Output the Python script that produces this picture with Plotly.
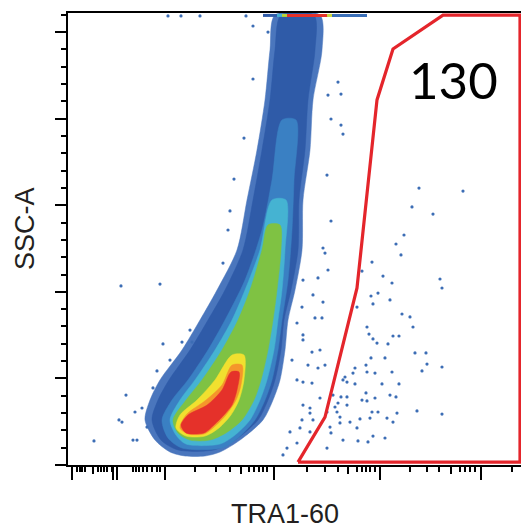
import plotly.graph_objects as go

# display units: x = TRA1-60 display channel, y = SSC-A in thousands
x_major_ticks = [4, 45, 49, 97, 206, 312, 413]
x_medium_ticks = [25, 173, 280, 383]
x_minor_ticks = [9, 12, 14, 17, 30, 33, 36, 39, 44, 65, 68, 71, 75, 79, 84, 89, 92,
                 127, 148, 162, 181, 186, 191, 195, 199, 239, 257, 270, 289, 294, 298,
                 302, 307, 342, 359, 371, 392, 397, 402, 407, 444]
y_major_ticks = [0, 50, 100, 150, 200, 250]
y_minor_ticks = [10, 20, 30, 40, 60, 70, 80, 90, 110, 120, 130, 140, 160, 170, 180, 190,
                 210, 220, 230, 240, 260]

# density levels of the pseudocolor cloud: rows (SSC-A) with left / right TRA1-60 edges
blue_y = [259.8, 239.6, 210.8, 181.9, 153.0, 124.2, 101.0, 83.7, 66.4, 49.1, 37.5, 26.0, 14.4, 7.5, 5.2]
blue_left = [207, 202, 197, 189, 179, 169, 149, 132, 114, 92, 82, 77, 87, 102, 117]
blue_right = [252, 254, 245, 242, 235, 234, 227, 220, 217, 212, 205, 195, 172, 152, 137]

dblue_y = [259.8, 239.6, 210.8, 181.9, 153.0, 124.2, 101.0, 83.7, 66.4, 49.1, 37.5, 26.0, 14.4, 8.7]
dblue_left = [213, 207, 202, 194, 185, 175, 157, 140, 122, 101, 90, 84, 93, 110]
dblue_right = [246, 247, 240, 237, 231, 230, 223, 216, 213, 207, 200, 190, 167, 146]

lblue_y = [199.2, 164.6, 135.7, 106.8, 83.7, 66.4, 49.1, 37.5, 26.0, 15.6, 9.8]
lblue_left = [214, 204, 194, 177, 157, 140, 120, 104, 94, 100, 114]
lblue_right = [228, 226, 224, 220, 214, 210, 204, 197, 187, 170, 154]

cyan_y = [153.0, 124.2, 101.0, 83.7, 66.4, 49.1, 37.5, 26.0, 17.3, 12.1]
cyan_left = [204, 192, 177, 164, 147, 127, 112, 102, 108, 118]
cyan_right = [218, 217, 214, 210, 206, 199, 192, 182, 167, 152]

green_y = [138.6, 124.2, 101.0, 83.7, 66.4, 49.1, 37.5, 26.0, 18.5, 14.4]
green_left = [200, 194, 182, 170, 154, 134, 118, 105, 110, 122]
green_right = [212, 213, 209, 205, 200, 193, 186, 174, 158, 142]

yellow_y = [63.5, 49.1, 37.5, 28.9, 21.4, 16.7]
yellow_left = [164, 147, 129, 112, 108, 118]
yellow_right = [176, 176, 171, 163, 151, 137]

orange_y = [57.7, 46.2, 37.5, 28.9, 21.4, 17.9]
orange_left = [164, 154, 138, 118, 112, 120]
orange_right = [174, 173, 168, 158, 145, 136]

red_y = [53.7, 43.3, 34.6, 28.9, 23.1, 18.5]
red_left = [163, 154, 139, 120, 113, 118]
red_right = [171, 169, 164, 156, 146, 136]

levels = [
    (blue_y, blue_left, blue_right, "#4a76bd"),
    (dblue_y, dblue_left, dblue_right, "#2f5ba8"),
    (lblue_y, lblue_left, lblue_right, "#3a80c3"),
    (cyan_y, cyan_left, cyan_right, "#45b3d2"),
    (green_y, green_left, green_right, "#7fc243"),
    (yellow_y, yellow_left, yellow_right, "#f1e02f"),
    (orange_y, orange_left, orange_right, "#f5962b"),
    (red_y, red_left, red_right, "#e5312a"),
]

# scattered single events
dots_x = [100, 113, 132, 178, 185, 185, 176, 166, 162, 160, 155, 200, 260, 259, 257, 260,
          270, 273, 263, 273, 275, 263, 351, 395, 344, 365, 336, 328, 333, 304, 255,
          53, 92, 95, 89, 58, 51, 26, 67, 65, 122, 124, 114, 102, 85, 74, 54, 69, 79,
          315, 324, 372, 374, 294, 310, 303, 322, 305, 289, 334, 342, 345, 299, 301, 325,
          331, 305, 320, 309, 347, 358, 359, 374, 354, 317, 303, 287, 298, 299, 307, 324,
          285, 314, 331, 322, 328, 298, 287, 279, 279, 294, 299, 307, 304, 310, 349, 374,
          329, 319, 325, 302, 292, 289, 282, 272, 262, 263, 275, 300, 317, 305, 290, 259,
          272, 269, 267, 270, 265, 273, 279, 277, 275,
          235, 250, 255, 245, 247, 254, 235, 244, 252, 240, 250, 257, 235, 244, 252, 242,
          245, 259, 232, 242, 219, 215, 222, 235, 234, 229, 235, 224, 229, 242, 234, 229]
dots_y = [259.3, 259.3, 259.3, 259.3, 253.5, 222.9, 188.8, 165.1, 146.7, 135.7, 116.6, 250.0,
          213.6, 167.4, 122.4, 112.6, 221.1, 214.2, 199.8, 196.3, 191.1, 140.9, 159.9, 158.2,
          149.0, 144.9, 132.8, 127.6, 121.3, 117.2, 125.3,
          103.4, 104.5, 69.9, 54.3, 40.4, 26.0, 13.9, 30.6, 14.4, 77.9, 71.0, 71.0, 60.6,
          44.5, 32.9, 24.8, 14.4, 21.9,
          109.1, 105.1, 107.4, 102.2, 112.0, 99.3, 97.6, 95.3, 93.0, 91.2, 87.2, 85.5, 79.7,
          79.7, 75.6, 74.5, 74.5, 72.8, 69.9, 70.4, 64.7, 64.7, 58.3, 56.6, 54.3, 61.8, 61.8,
          56.0, 57.7, 53.7, 53.1, 53.7, 53.1, 46.8, 46.8, 40.4, 39.3, 41.6, 46.8, 39.3, 34.6,
          37.5, 37.0, 38.7, 30.6, 30.6, 31.2, 29.4, 30.0, 27.1, 24.8, 27.1, 26.6, 21.4, 24.8,
          24.3, 21.9, 18.5, 14.4, 13.3, 15.6, 16.7, 13.9, 9.8, 27.7, 30.6, 33.5, 35.8, 40.4,
          39.3, 47.9, 50.8, 49.1,
          106.8, 108.0, 94.1, 98.2, 84.9, 84.9, 75.1, 65.2, 66.4, 57.7, 56.0, 57.7, 47.9, 47.3,
          38.7, 30.0, 26.0, 30.6, 21.4, 19.1, 9.8, 5.8, 19.1, 34.6, 91.2, 82.0, 72.2, 60.6,
          49.1, 32.9, 26.0, 12.7]

# events piled up at the top of the SSC-A scale
strip_start = [195, 209, 214, 219, 259, 264]
strip_end = [209, 214, 219, 260, 264, 299]
strip_color = ["#2f5ba8", "#45b3d2", "#b9d437", "#e5312a", "#c9d838", "#3a6fb8"]
strip_y = 259.6

# gate
gate_x = [230, 257, 289, 309, 325, 375, 452, 452, 230]
gate_y = [1.7, 27.7, 102.2, 210.8, 240.2, 259.8, 259.8, 1.7, 1.7]
gate_count = "130"

fig = go.Figure()

for ly, ll, lr, col in levels:
    fig.add_trace(go.Scatter(
        x=ll + lr[::-1] + [ll[0]],
        y=ly + ly[::-1] + [ly[0]],
        mode="lines",
        fill="toself",
        fillcolor=col,
        line=dict(color=col, width=0.5, shape="spline", smoothing=0.8),
        hoverinfo="skip",
    ))

fig.add_trace(go.Scatter(
    x=dots_x, y=dots_y, mode="markers",
    marker=dict(color="#3c6db5", size=3.2, line=dict(width=0)),
    hoverinfo="skip",
))

for s, e, c in zip(strip_start, strip_end, strip_color):
    fig.add_trace(go.Scatter(
        x=[s, e], y=[strip_y, strip_y], mode="lines",
        line=dict(color=c, width=3), hoverinfo="skip",
    ))

fig.add_trace(go.Scatter(
    x=gate_x, y=gate_y, mode="lines", xaxis="x2",
    line=dict(color="#e4252b", width=3.2), hoverinfo="skip",
))

fig.add_annotation(text=gate_count, xref="paper", yref="paper", x=0.852, y=0.852,
                   xanchor="center", yanchor="middle", showarrow=False,
                   font=dict(family="Lato", size=51, color="black"))
fig.add_annotation(text="SSC-A", xref="paper", yref="paper", x=-0.095, y=0.524,
                   xanchor="center", yanchor="middle", textangle=-90, showarrow=False,
                   font=dict(family="Liberation Sans", size=27, color="#231f20"))
fig.add_annotation(text="TRA1-60", xref="paper", yref="paper", x=0.479, y=-0.108,
                   xanchor="center", yanchor="middle", showarrow=False,
                   font=dict(family="Liberation Sans", size=27, color="#231f20"))

fig.update_layout(
    width=521, height=530,
    margin=dict(l=68, r=0, t=13, b=65),
    paper_bgcolor="white", plot_bgcolor="white",
    showlegend=False,
    xaxis=dict(range=[0, 453], showline=True, linecolor="black", linewidth=2, mirror=True,
               ticks="outside", tickvals=x_major_ticks, ticklen=13, tickwidth=2,
               tickcolor="black", showticklabels=False, showgrid=False, zeroline=False,
               minor=dict(tickmode="array", tickvals=x_minor_ticks, ticks="outside",
                          ticklen=5, tickwidth=1.5, tickcolor="black", showgrid=False)),
    xaxis2=dict(range=[0, 453], overlaying="x", anchor="y", side="bottom", showline=False,
                ticks="outside", tickvals=x_medium_ticks, ticklen=8, tickwidth=1.5,
                tickcolor="black", showticklabels=False, showgrid=False, zeroline=False),
    yaxis=dict(range=[0, 261], showline=True, linecolor="black", linewidth=2,
               ticks="outside", tickvals=y_major_ticks, ticklen=11, tickwidth=2,
               tickcolor="black", showticklabels=False, showgrid=False, zeroline=False,
               minor=dict(tickmode="array", tickvals=y_minor_ticks, ticks="outside",
                          ticklen=5, tickwidth=1.5, tickcolor="black", showgrid=False)),
)

fig.write_html("out.html", config={"displayModeBar": False},
               post_script="document.body.style.margin='0';")
